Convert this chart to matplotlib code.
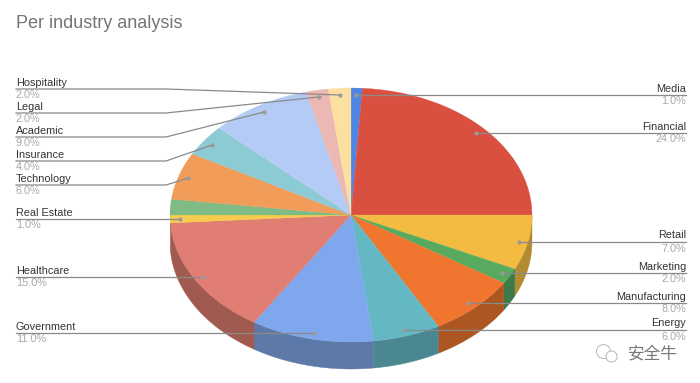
import numpy as np
import matplotlib
matplotlib.use('Agg')
import matplotlib.pyplot as plt

plt.rcParams['font.family'] = ['Liberation Sans', 'Noto Sans CJK SC', 'DejaVu Sans']

# clockwise from 12 o'clock, the green slice after Real Estate has no label in the original
names = ['Media', 'Financial', 'Retail', 'Marketing', 'Manufacturing', 'Energy', 'Government',
         'Healthcare', 'Real Estate', '', 'Technology', 'Insurance', 'Academic', 'Legal', 'Hospitality']
values = [1, 24, 7, 2, 8, 6, 11, 15, 1, 2, 6, 4, 9, 2, 2]
pct_labels = ['1.0%', '24.0%', '7.0%', '2.0%', '8.0%', '6.0%', '11.0%',
              '15.0%', '1.0%', '', '6.0%', '4.0%', '9.0%', '2.0%', '2.0%']
colors = ['#4e86e8', '#d95040', '#f3bb41', '#58aa5f', '#f0752f', '#63b8c4', '#7ea7ee',
          '#e07e73', '#f7cb4d', '#7fbb84', '#f29c59', '#8ccbd3', '#b3cbf5', '#ecb8b3', '#fbe0a0']
side_colors = ['#3a64ae', '#a33c30', '#b28a32', '#3c7a47', '#ac5722', '#4a8791', '#5c79a8',
               '#a15a50', None, None, None, None, None, None, None]

# label rows: y of the leader line, anchor on the pie
label_y = [95, 133, 242, 273, 303, 330, 333, 277, 219, 0, 185, 161, 137, 113, 89]
anchor = [(356, 95), (476, 133), (519, 242), (502, 273), (468, 303), (404, 330), (314, 333),
          (203, 277), (180, 219), (0, 0), (188, 178), (212, 145), (264, 112), (319, 97), (340, 95)]
right_side = ['Media', 'Financial', 'Retail', 'Marketing', 'Manufacturing', 'Energy']

cx, cy, rx, ry, depth = 351, 215, 181, 127, 27

fig = plt.figure(figsize=(7, 3.83), dpi=100)
ax = fig.add_axes([0, 0, 1, 1])
ax.set_xlim(0, 700)
ax.set_ylim(383, 0)
ax.axis('off')


def arc(a0, a1, dy=0):
    t = np.linspace(a0, a1, 80)
    return cx + rx * np.sin(t), cy + dy - ry * np.cos(t)


edges = np.cumsum([0] + values) / sum(values) * 2 * np.pi

# side wall first
for i in range(len(values)):
    a0 = max(edges[i], np.pi / 2)
    a1 = min(edges[i + 1], 3 * np.pi / 2)
    if a1 <= a0 or side_colors[i] is None:
        continue
    x, y = arc(a0, a1)
    ax.fill(np.r_[x, x[::-1]], np.r_[y, y[::-1] + depth], color=side_colors[i], lw=0.3)

for i in range(len(values)):
    x, y = arc(edges[i], edges[i + 1])
    ax.fill(np.r_[cx, x], np.r_[cy, y], color=colors[i], lw=0.2)

for i, name in enumerate(names):
    if not name:
        continue
    ly = label_y[i]
    ax_, ay = anchor[i]
    if name in right_side:
        ax.plot([ax_, 686], [ay, ly], color='#8a8a8a', lw=0.9, zorder=5)
        ax.text(686, ly - 1.5, name, ha='right', va='bottom', fontsize=7.8, color='#333333')
        ax.text(686, ly + 1.5, pct_labels[i], ha='right', va='top', fontsize=7.8, color='#a8a8a8')
    else:
        ax.plot([16, 166, ax_], [ly, ly, ay], color='#8a8a8a', lw=0.9, zorder=5)
        ax.text(16, ly - 1.5, name, ha='left', va='bottom', fontsize=7.8, color='#333333')
        ax.text(16, ly + 1.5, pct_labels[i], ha='left', va='top', fontsize=7.8, color='#a8a8a8')
    ax.plot([ax_], [ay], 'o', ms=2, color='#9a9a9a', zorder=6)

ax.text(16, 23, 'Per industry analysis', fontsize=13, color='#757575', ha='left', va='center')
ax.text(628, 353, '安全牛', fontsize=12, color='#777777', ha='left', va='center')
ax.plot([603], [351], 'o', ms=10, mfc='white', mec='#aaaaaa', mew=0.6, ls='none')
ax.plot([611], [356], 'o', ms=8, mfc='white', mec='#aaaaaa', mew=0.6, ls='none')

fig.savefig('out.png', dpi=100)
